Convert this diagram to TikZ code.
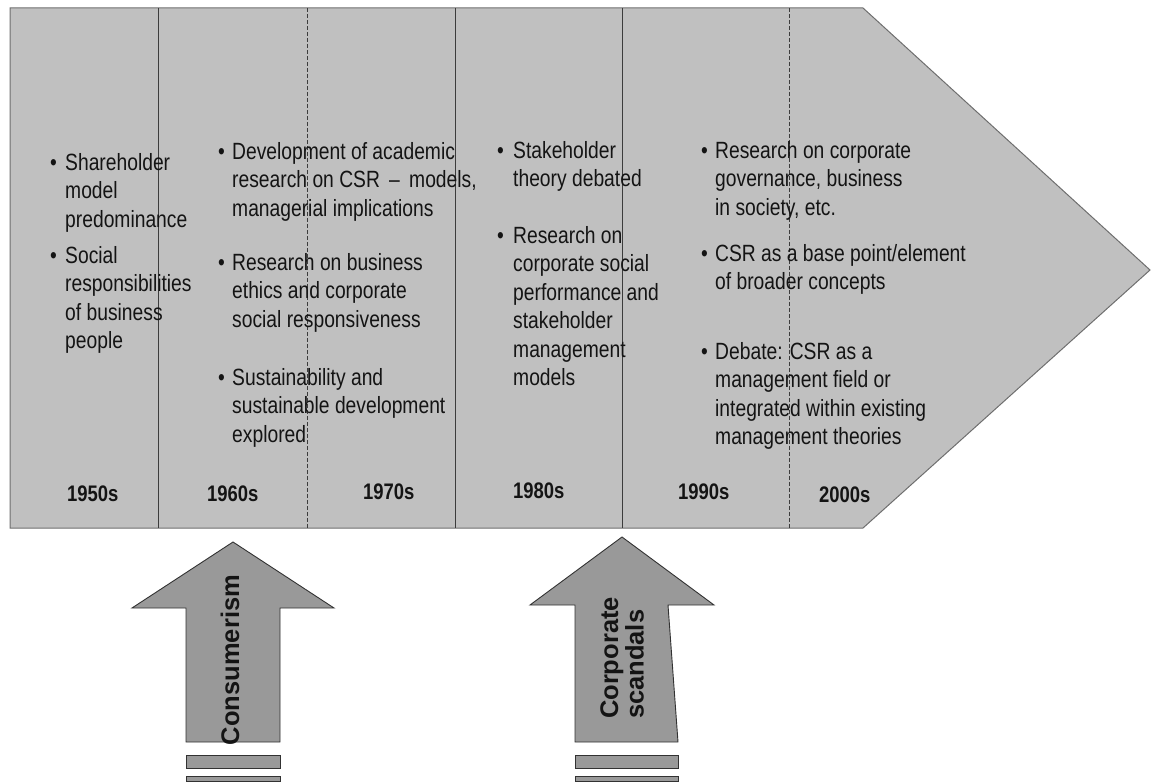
\documentclass[tikz,border=0pt]{standalone}
\usepackage{fontspec}
\setmainfont{Liberation Sans}[FakeStretch=0.82]
\newfontfamily\arrowfont{Liberation Sans}
\usepackage{array}
\definecolor{shapefill}{RGB}{192,192,192}
\definecolor{shapeedge}{RGB}{110,110,110}
\definecolor{divider}{RGB}{60,60,60}
\definecolor{arrowfill}{RGB}{153,153,153}
\definecolor{arrowedge}{RGB}{50,50,50}
\definecolor{textcol}{RGB}{20,20,20}
\newcommand\bitem[2]{\makebox[#1][l]{\textbullet}\begin{tabular}[t]{@{}l@{}}#2\end{tabular}}
\tikzset{
  item/.style={anchor=base west, inner sep=0pt, text=textcol, font=\fontsize{23.5}{28.4}\selectfont},
  year/.style={anchor=base west, inner sep=0pt, text=textcol, font=\bfseries\fontsize{22.5}{27}\selectfont},
  solidline/.style={draw=divider, line width=0.8pt},
  dashline/.style={draw=divider, line width=0.8pt, dash pattern=on 4pt off 2pt},
  bigarrow/.style={fill=arrowfill, draw=arrowedge, line width=0.9pt, line join=miter},
  arrowlabel/.style={rotate=90, inner sep=0pt, text=textcol, font=\arrowfont\bfseries\fontsize{25.5}{25.5}\selectfont}
}
\begin{document}
\begin{tikzpicture}[x=1pt,y=-1pt]
\useasboundingbox (0,0) rectangle (1157,783);
% main timeline shape
\draw[fill=shapefill, draw=shapeedge, line width=1pt] (10,8) -- (863,8) -- (1150,270) -- (863,528) -- (10,528) -- cycle;
% dividers
\draw[solidline] (158,8) -- (158,528);
\draw[dashline] (307,8) -- (307,528);
\draw[solidline] (455,8) -- (455,528);
\draw[solidline] (622,8) -- (622,528);
\draw[dashline] (789,8) -- (789,528);
% column 1
\node[item] (c1a) at (50,170.5) {\bitem{15pt}{Shareholder\\model\\predominance}};
\node[item] (c1b) at (50,263.5) {\bitem{15pt}{Social\\responsibilities\\of business\\people}};
% column 2
\node[item] (c2a) at (218,159.5) {\bitem{14pt}{Development of academic\\research on CSR \,–\,\ models,\\managerial implications}};
\node[item] (c2b) at (218,270.5) {\bitem{14pt}{Research on business\\ethics and corporate\\social responsiveness}};
\node[item] (c2c) at (218,385.5) {\bitem{14pt}{Sustainability and\\sustainable development\\explored}};
% column 3
\node[item] (c3a) at (497,158.5) {\bitem{16pt}{Stakeholder\\theory debated}};
\node[item] (c3b) at (497,243.5) {\bitem{16pt}{Research on\\corporate social\\performance and\\stakeholder\\management\\models}};
% column 4
\node[item] (c4a) at (701,158.5) {\bitem{14pt}{Research on corporate\\governance, business\\in society, etc.}};
\node[item] (c4b) at (701,261.5) {\bitem{14pt}{CSR as a base point/element\\of broader concepts}};
\node[item] (c4c) at (701,359.5) {\bitem{14pt}{Debate: CSR as a\\management field or\\integrated within existing\\management theories}};
% years
\node[year] (y50) at (67,501) {1950s};
\node[year] (y60) at (207,501) {1960s};
\node[year] (y70) at (363,500) {1970s};
\node[year] (y80) at (513,498) {1980s};
\node[year] (y90) at (678,500) {1990s};
\node[year] (y00) at (819,502) {2000s};
% consumerism arrow
\draw[bigarrow] (186,742) -- (186,608) -- (132,608) -- (233,542) -- (334,608) -- (280,608) -- (280,742) -- cycle;
\draw[bigarrow] (186,755) rectangle (280,768);
\draw[bigarrow] (186,776) rectangle (280,781);
\node[arrowlabel] (cons) at (230,660) {Consumerism};
% corporate scandals arrow
\draw[bigarrow] (575,742) -- (575,605) -- (530,605) -- (622,537) -- (714,605) -- (668,605) -- (678,742) -- cycle;
\draw[bigarrow] (575,755) rectangle (678,768);
\draw[bigarrow] (575,776) rectangle (678,781);
\node[arrowlabel, align=left] (scan) at (622,658) {Corporate\\scandals};
\end{tikzpicture}
\end{document}
